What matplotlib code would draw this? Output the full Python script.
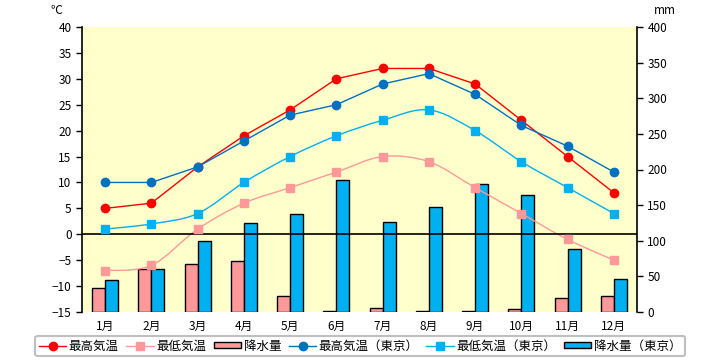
import matplotlib.pyplot as plt
import numpy as np
from matplotlib.path import Path
from matplotlib.patches import PathPatch, Patch
from matplotlib.lines import Line2D

plt.rcParams['font.family'] = ['Noto Sans CJK JP', 'DejaVu Sans']

months = ['1月', '2月', '3月', '4月', '5月', '6月', '7月', '8月', '9月', '10月', '11月', '12月']
t_max = [5, 6, 13, 19, 24, 30, 32, 32, 29, 22, 15, 8]
t_min = [-7, -6, 1, 6, 9, 12, 15, 14, 9, 4, -1, -5]
rain = [33, 60, 67, 72, 22, 1, 6, 1, 1, 4, 20, 22]
tokyo_max = [10, 10, 13, 18, 23, 25, 29, 31, 27, 21, 17, 12]
tokyo_min = [1, 2, 4, 10, 15, 19, 22, 24, 20, 14, 9, 4]
tokyo_rain = [45, 60, 100, 125, 137, 185, 126, 147, 180, 164, 88, 46]

red = '#FF0000'
pink = '#FF9999'
navy = '#0070C0'
sky = '#00B0F0'
bg = '#FFFFCC'


def smooth_path(x, y):
    # smoothed line like a spreadsheet chart (Catmull-Rom as cubic Bezier)
    pts = np.column_stack([x, y]).astype(float)
    n = len(pts)
    verts = [pts[0]]
    codes = [Path.MOVETO]
    for i in range(n - 1):
        p0 = pts[i - 1] if i > 0 else pts[i]
        p1 = pts[i]
        p2 = pts[i + 1]
        p3 = pts[i + 2] if i + 2 < n else pts[i + 1]
        c1 = p1 + (p2 - p0) / 6
        c2 = p2 - (p3 - p1) / 6
        verts += [c1, c2, p2]
        codes += [Path.CURVE4] * 3
    return Path(verts, codes)


fig = plt.figure(figsize=(7.2, 3.6), dpi=100)
ax = fig.add_axes([82 / 720, 1 - 312 / 360, 555 / 720, 285 / 360])  # precipitation
ax2 = ax.twinx()  # temperature

x = np.arange(len(months))
w = 0.28

ax.set_facecolor(bg)
ax.bar(x - w / 2, rain, w, color=pink, edgecolor='black', lw=1)
ax.bar(x + w / 2, tokyo_rain, w, color=sky, edgecolor='black', lw=1)
ax.set_ylim(0, 400)
ax.set_xlim(-0.5, 11.5)
ax.yaxis.tick_right()
ax.set_yticks(range(0, 401, 50))
ax.set_xticks(x)
ax.set_xticklabels(months)

ax2.set_ylim(-15, 40)
ax2.yaxis.tick_left()
ax2.set_yticks(range(-15, 41, 5))
ax2.axhline(0, color='black', lw=1.2)

ax2.plot(x, t_max, color=red, lw=1, marker='o', ms=6)
ax2.plot(x, tokyo_max, color=navy, lw=1, marker='o', ms=6)
ax2.add_patch(PathPatch(smooth_path(x, t_min), fill=False, edgecolor=pink, lw=1))
ax2.plot(x, t_min, ls='none', color=pink, marker='s', ms=5.5)
ax2.add_patch(PathPatch(smooth_path(x, tokyo_min), fill=False, edgecolor=sky, lw=1))
ax2.plot(x, tokyo_min, ls='none', color=sky, marker='s', ms=5.5)

for a in (ax, ax2):
    for s in a.spines.values():
        s.set_visible(False)
    a.tick_params(labelsize=8.5, length=4, width=1, color='black')
ax2.spines['left'].set_visible(True)
ax2.spines['left'].set_linewidth(1.2)
ax.spines['right'].set_visible(True)
ax.spines['right'].set_linewidth(1.2)
ax.tick_params(axis='x', length=0, pad=6)

fig.text(56 / 720, 1 - 10 / 360, '℃', fontsize=8.5, ha='center', va='center')
fig.text(665 / 720, 1 - 10 / 360, 'mm', fontsize=8.5, ha='center', va='center')

handles = [
    Line2D([], [], color=red, lw=1, marker='o', ms=6),
    Line2D([], [], color=pink, lw=1, marker='s', ms=6),
    Patch(facecolor=pink, edgecolor='black', lw=1),
    Line2D([], [], color=navy, lw=1, marker='o', ms=6),
    Line2D([], [], color=sky, lw=1, marker='s', ms=6),
    Patch(facecolor=sky, edgecolor='black', lw=1),
]
labels = ['最高気温', '最低気温', '降水量', '最高気温（東京）', '最低気温（東京）', '降水量（東京）']
leg = fig.legend(handles, labels, loc='center', bbox_to_anchor=(0.5, 1 - 346 / 360),
                 ncol=6, fontsize=9, frameon=True, fancybox=True, framealpha=1,
                 edgecolor='#BFBFBF', handlelength=2.2, handleheight=0.4,
                 handletextpad=0.2, columnspacing=0.6, borderpad=0.3)
leg.get_frame().set_linewidth(1.5)

fig.savefig('out.png', dpi=100)
